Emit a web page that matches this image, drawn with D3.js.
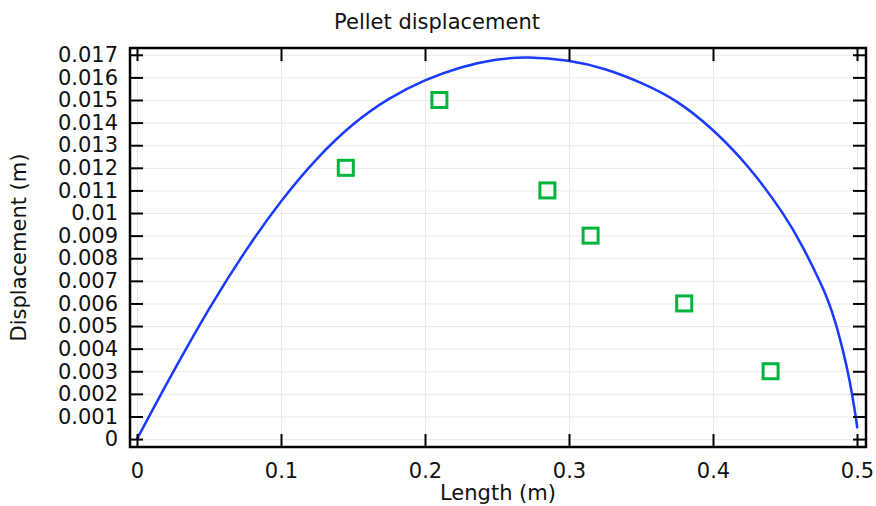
<!DOCTYPE html>
<html>
<head>
<meta charset="utf-8">
<script src="https://cdn.jsdelivr.net/npm/d3@7"></script>
<style>
  body { margin: 0; background: #fff; }
  svg { font-family: "DejaVu Sans", sans-serif; }
</style>
</head>
<body>
<svg id="chart" width="876" height="506"></svg>
<script>
// curve
const lengthX = [0, 0.0125, 0.025, 0.05, 0.075, 0.1, 0.125, 0.15, 0.175, 0.2, 0.225, 0.25, 0.2706, 0.3, 0.325, 0.35, 0.375, 0.4, 0.425, 0.45, 0.4625, 0.475, 0.48, 0.485, 0.49, 0.495, 0.4993, 0.5002];
const dispY = [0, 0.0015, 0.00297, 0.0058, 0.00833, 0.01057, 0.01246, 0.01398, 0.0151, 0.0159, 0.01648, 0.01682, 0.01692, 0.01677, 0.0164, 0.01578, 0.015, 0.01372, 0.01208, 0.00991, 0.00851, 0.00688, 0.00613, 0.0052, 0.004, 0.00262, 0.00094, 0.00047];

// measured points (squares)
const measX = [0.145, 0.21, 0.285, 0.315, 0.38, 0.44];
const measY = [0.012, 0.015, 0.011, 0.009, 0.006, 0.003];

const xTicks = [0, 0.1, 0.2, 0.3, 0.4, 0.5];
const yTicks = d3.range(0, 18).map(i => i / 1000);

const pLeft = 130, pRight = 866, pTop = 48, pBottom = 447;

const svg = d3.select("#chart");

const x = d3.scaleLinear().domain([-0.00486, 0.50625]).range([pLeft, pRight]);
const y = d3.scaleLinear().domain([-0.00035, 0.0173]).range([pBottom, pTop]);

// grid
svg.append("g")
    .attr("transform", `translate(0,${pBottom})`)
    .call(d3.axisBottom(x).tickValues(xTicks).tickSize(-(pBottom - pTop)).tickFormat(""))
    .call(g => g.select(".domain").remove())
    .selectAll("line").attr("stroke", "#e9e9e9");
svg.append("g")
    .attr("transform", `translate(${pLeft},0)`)
    .call(d3.axisLeft(y).tickValues(yTicks).tickSize(-(pRight - pLeft)).tickFormat(""))
    .call(g => g.select(".domain").remove())
    .selectAll("line").attr("stroke", "#e9e9e9");

// curve
const line = d3.line()
    .x((d, i) => x(lengthX[i]))
    .y(d => y(d))
    .curve(d3.curveBasis);

svg.append("path")
    .datum(dispY)
    .attr("fill", "none")
    .attr("stroke", "#1a3aff")
    .attr("stroke-width", 2.5)
    .attr("d", line);

// squares
svg.append("g")
    .selectAll("rect")
    .data(measY)
    .join("rect")
    .attr("x", (d, i) => x(measX[i]) - 7.5)
    .attr("y", d => y(d) - 7.5)
    .attr("width", 15)
    .attr("height", 15)
    .attr("fill", "none")
    .attr("stroke", "#00b43c")
    .attr("stroke-width", 3);

// axes, ticks pointing inward
const fmt = d3.format(".3~f");

const ax = svg.append("g")
    .attr("transform", `translate(0,${pBottom})`)
    .call(d3.axisBottom(x).tickValues(xTicks).tickSize(-13).tickPadding(16).tickFormat(d3.format("~g")));
const ay = svg.append("g")
    .attr("transform", `translate(${pLeft},0)`)
    .call(d3.axisLeft(y).tickValues(yTicks).tickSize(-13).tickPadding(12).tickFormat(fmt));
const axt = svg.append("g")
    .attr("transform", `translate(0,${pTop})`)
    .call(d3.axisTop(x).tickValues(xTicks).tickSize(-13).tickFormat(""));
const ayr = svg.append("g")
    .attr("transform", `translate(${pRight},0)`)
    .call(d3.axisRight(y).tickValues(yTicks).tickSize(-13).tickFormat(""));

[ax, ay, axt, ayr].forEach(g => {
    g.select(".domain").remove();
    g.selectAll("line").attr("stroke", "#000").attr("stroke-width", 2);
    g.selectAll("text").attr("font-size", 21).attr("fill", "#111").attr("font-family", "DejaVu Sans");
});

ax.selectAll("text").attr("dy", "0.71em");

// frame
svg.append("rect")
    .attr("x", pLeft)
    .attr("y", pTop)
    .attr("width", pRight - pLeft)
    .attr("height", pBottom - pTop)
    .attr("fill", "none")
    .attr("stroke", "#000")
    .attr("stroke-width", 2.5);

// titles
svg.append("text")
    .attr("x", 437)
    .attr("y", 29)
    .attr("text-anchor", "middle")
    .attr("font-size", 21)
    .attr("fill", "#111")
    .text("Pellet displacement");

svg.append("text")
    .attr("x", (pLeft + pRight) / 2)
    .attr("y", 500)
    .attr("text-anchor", "middle")
    .attr("font-size", 21)
    .attr("fill", "#111")
    .text("Length (m)");

svg.append("text")
    .attr("transform", `translate(26,${(pTop + pBottom) / 2}) rotate(-90)`)
    .attr("text-anchor", "middle")
    .attr("font-size", 21)
    .attr("fill", "#111")
    .text("Displacement (m)");
</script>
</body>
</html>
